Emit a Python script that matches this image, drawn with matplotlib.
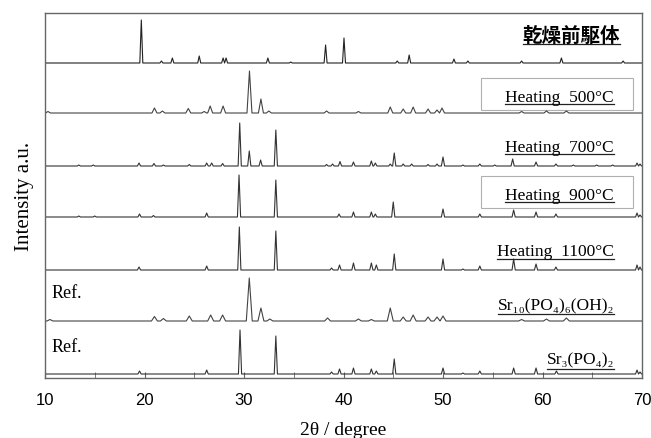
import numpy as np
import matplotlib.pyplot as plt
from matplotlib.patches import Rectangle

# peak positions (2theta) and heights (panel pixels)
pre_pos = [19.68, 21.7, 22.8, 25.5, 27.9, 28.2, 32.4, 34.7, 38.2, 40.05, 45.4, 46.6, 51.1, 52.5, 57.9, 61.9, 68.1]
pre_h = [43, 2, 5, 7, 5, 5, 5, 1, 18, 25, 2, 8, 4, 2, 2, 5, 2]

h500_pos = [10.3, 21.0, 21.8, 24.4, 26.0, 26.6, 27.9, 30.55, 31.7, 32.5, 38.3, 41.5, 44.7, 46.0, 47.0,
            48.5, 49.4, 49.9, 57.9, 60.4, 62.4]
h500_h = [1.5, 5, 2, 4.5, 1.5, 7, 7, 42, 14, 2, 2, 1.5, 6, 4, 6, 4, 3, 5, 1.5, 2, 2]

h700_pos = [13.4, 14.85, 19.45, 20.95, 21.9, 24.5, 26.25, 26.75, 27.85, 29.57, 30.53, 31.67, 33.2, 38.3,
            38.9, 39.65, 41.0, 42.8, 43.2, 44.7, 45.1, 46.0, 46.85, 48.5, 49.4, 50.0, 52.0, 53.7, 55.2,
            57.0, 59.35, 61.35, 63.1, 65.45, 67.05, 69.5, 69.8]
h700_h = [1, 1, 3, 2.5, 1, 1.5, 3, 3, 2.5, 43, 15, 6, 36, 1.5, 2, 4.5, 4, 5, 3, 2, 13, 2, 2, 1.5, 2, 9,
          1, 2, 1, 7, 4, 2, 1, 1, 1, 3, 2]

h900_pos = [13.4, 15.0, 19.5, 20.9, 26.25, 29.5, 33.2, 39.55, 41.0, 42.8, 43.2, 45.0, 50.0, 53.7, 57.1,
            59.35, 61.35, 69.5, 69.8]
h900_h = [1, 1, 3, 1.5, 4, 42, 37, 3, 5, 5, 3, 15, 8, 3, 7, 5, 3, 4, 2]

h1100_pos = [19.45, 26.25, 29.53, 33.2, 38.8, 39.6, 41.0, 42.8, 43.3, 45.1, 50.0, 52.0, 53.7, 57.1,
             59.35, 61.35, 69.5, 69.8]
h1100_h = [3, 4, 43, 39, 2, 5, 7, 7, 5, 16, 11, 1, 4, 11, 6, 3, 5, 3]

hap_pos = [10.5, 21.0, 21.9, 24.5, 26.65, 27.85, 30.53, 31.7, 32.6, 38.4, 41.5, 42.8, 44.7, 46.0, 47.0,
           48.5, 49.4, 50.0, 57.9, 60.4, 62.4]
hap_h = [1.5, 4.5, 2.5, 5, 6, 6, 43, 13, 2, 3, 2, 1.5, 13, 4, 6, 4, 4, 5, 1.5, 2, 3]

tcp_pos = [19.5, 26.25, 29.6, 33.2, 38.8, 39.6, 41.0, 42.8, 43.3, 45.1, 50.0, 52.0, 53.7, 57.1, 59.35,
           61.4, 69.5, 69.8]
tcp_h = [3, 4, 44, 38, 2, 5, 6, 5, 3, 15, 6, 1, 3, 6, 6, 3, 4, 2]

labels = ['乾燥前駆体', 'Heating  500°C', 'Heating  700°C', 'Heating  900°C',
          'Heating  1100°C', 'Sr₁₀(PO₄)₆(OH)₂', 'Sr₃(PO₄)₂']

patterns = [(pre_pos, pre_h), (h500_pos, h500_h), (h700_pos, h700_h), (h900_pos, h900_h),
            (h1100_pos, h1100_h), (hap_pos, hap_h), (tcp_pos, tcp_h)]

# layout: baseline of each trace (px above axes bottom), peak half widths
offsets = [315, 265, 212, 161, 108, 57, 4]
widths = [0.15, 0.25, 0.16, 0.16, 0.16, 0.3, 0.16]
colors = ['#222222', '#444444', '#333333', '#333333', '#333333', '#444444', '#333333']
boxed = [False, True, False, True, False, False, False]
label_base = [42, 102, 152, 200, 256.5, 310, 364.5]   # text baseline, px from top
underline_gap = [3, 3, 3, 3, 3, 5, 5]
ref_rows = [5, 6]


def trace(pos, h, w):
    xs, ys = [10.0], [0.0]
    pos = list(pos)
    for i, (p, hh) in enumerate(zip(pos, h)):
        ww = w
        if i > 0:
            ww = min(ww, (p - pos[i - 1]) / 2)
        if i < len(pos) - 1:
            ww = min(ww, (pos[i + 1] - p) / 2)
        xs += [p - ww, p, p + ww]
        ys += [0, hh, 0]
    xs.append(70.0)
    ys.append(0.0)
    return np.array(xs), np.array(ys)


W, H = 651, 439
fig = plt.figure(figsize=(W / 100, H / 100), dpi=100)
ax = fig.add_axes([45 / W, 1 - 379 / H, (642 - 45) / W, (379 - 14) / H])
ax.set_xlim(10, 70)
ax.set_ylim(0, 365)


def px_x(x):
    return 10 + (x - 45) / 9.95


def px_y(y):
    return 379 - y


for i, (pos, h) in enumerate(patterns):
    xs, ys = trace(pos, h, widths[i])
    ax.plot(xs, ys + offsets[i], color=colors[i], lw=0.8)

serif = ['Liberation Serif', 'DejaVu Serif']
texts = []
for i, lab in enumerate(labels):
    if i == 0:
        t = ax.text(px_x(620), px_y(label_base[i]), lab, ha='right', va='baseline',
                    fontsize=14, fontweight='bold', family=['Noto Sans CJK JP', 'DejaVu Sans'])
    else:
        t = ax.text(px_x(614), px_y(label_base[i]), lab, ha='right', va='baseline',
                    fontsize=12.5, family=serif)
    texts.append(t)
    if boxed[i]:
        y0 = px_y(label_base[i] + 9)
        ax.add_patch(Rectangle((px_x(481), y0), px_x(633) - px_x(481), 32,
                               fill=False, ec='#b0b0b0', lw=0.8))

fig.canvas.draw()
r = fig.canvas.get_renderer()
inv = ax.transData.inverted()
for i, t in enumerate(texts):
    bb = t.get_window_extent(r)
    x0 = inv.transform((bb.x0, 0))[0]
    x1 = inv.transform((bb.x1, 0))[0]
    yu = px_y(label_base[i] + underline_gap[i])
    ax.plot([x0, x1], [yu, yu], color='#222222', lw=0.9)

for i in ref_rows:
    ax.text(px_x(52), px_y(label_base[i] - 12), 'Ref.', ha='left', va='baseline',
            fontsize=13, family=serif)

for s in ax.spines.values():
    s.set_color('#666666')
    s.set_linewidth(1.0)

ax.set_yticks([])
ax.set_xticks([10, 20, 30, 40, 50, 60, 70])
ax.set_xticks([15, 25, 35, 45, 55, 65], minor=True)
ax.tick_params(axis='x', which='both', direction='in', length=4, color='#666666',
               labelsize=12, pad=10)
for lab in ax.get_xticklabels():
    lab.set_family(['Liberation Sans', 'DejaVu Sans'])

ax.set_xlabel('2θ / degree', family=serif, fontsize=14, labelpad=10)
ax.set_ylabel('Intensity a.u.', family=serif, fontsize=15, labelpad=8)

fig.savefig('out.png', dpi=100)
